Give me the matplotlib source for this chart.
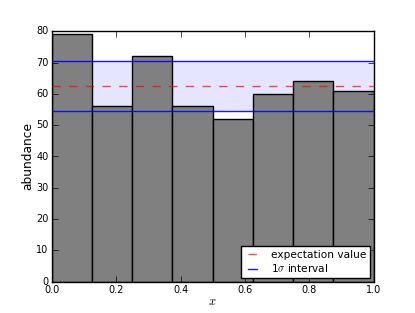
import matplotlib
matplotlib.use('Agg')
import matplotlib.pyplot as plt
import numpy as np

plt.style.use('classic')
plt.rcParams['font.size'] = 7.5
plt.rcParams['font.family'] = ['DejaVu Sans']

bin_edges = [0.0, 0.125, 0.25, 0.375, 0.5, 0.625, 0.75, 0.875, 1.0]
counts = [79, 56, 72, 56, 52, 60, 64, 61]
xticks = [0.0, 0.2, 0.4, 0.6, 0.8, 1.0]
yticks = [0, 10, 20, 30, 40, 50, 60, 70, 80]

mean = np.mean(counts)
sigma = np.sqrt(mean)

fig = plt.figure(figsize=(4.15, 3.13), dpi=100)
ax = fig.add_subplot(111)

ax.fill_between([bin_edges[0], bin_edges[-1]], mean - sigma, mean + sigma,
                color='blue', alpha=0.1, lw=0, zorder=0)
widths = np.diff(bin_edges)
ax.bar(bin_edges[:-1], counts, width=widths, align='edge',
       facecolor='#808080', edgecolor='black', lw=1.0, zorder=1)
ax.axhline(mean, color='red', ls='--', alpha=0.7, lw=1.0, zorder=3,
           label='expectation value')
ax.axhline(mean - sigma, color='blue', alpha=0.9, lw=1.0, zorder=3,
           label=r'1$\sigma$ interval')
ax.axhline(mean + sigma, color='blue', alpha=0.9, lw=1.0, zorder=3)

ax.set_xlim(0, 1)
ax.set_ylim(0, 80)
ax.set_xticks(xticks)
ax.set_yticks(yticks)
ax.tick_params(labelsize=7, pad=2.5)
ax.set_xlabel('$x$', fontsize=9, labelpad=0)
ax.set_ylabel('abundance', fontsize=8.8, labelpad=1)
leg = ax.legend(loc='lower right', fontsize=7.6, handlelength=1.5,
                handletextpad=1.0, borderaxespad=0.35, borderpad=0.35,
                labelspacing=0.25)

fig.subplots_adjust(left=0.125, right=0.9, bottom=0.1, top=0.9)
fig.savefig('out.png', dpi=100)
